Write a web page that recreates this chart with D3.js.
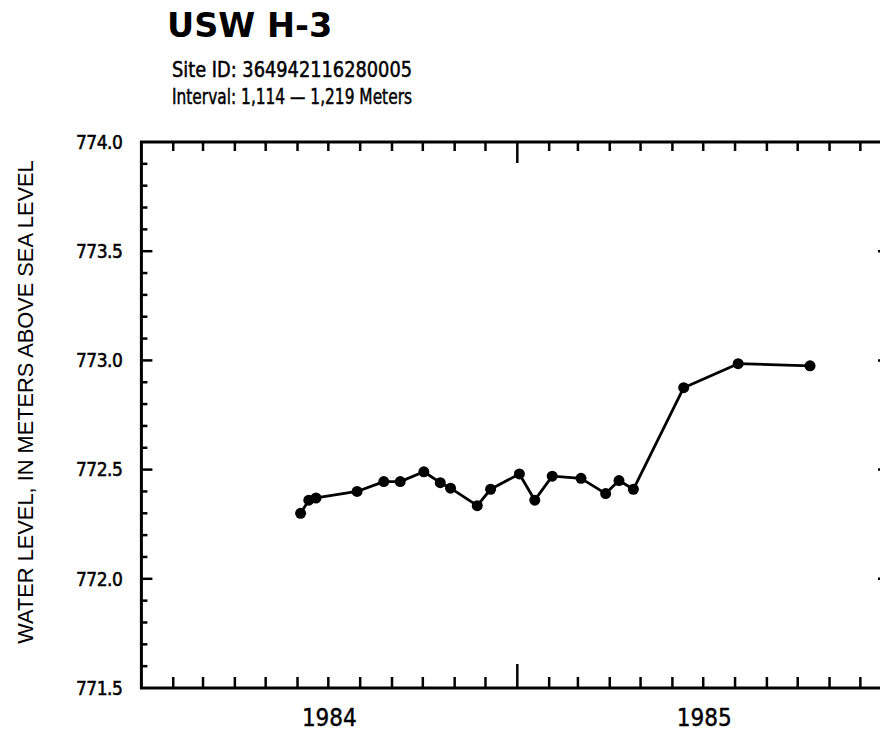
<!DOCTYPE html>
<html>
<head>
<meta charset="utf-8">
<script src="https://cdn.jsdelivr.net/npm/d3@7"></script>
<style>
  html, body { margin: 0; padding: 0; background: #fff; }
  svg { display: block; }
</style>
</head>
<body>
<svg id="chart" width="880" height="733"></svg>
<script>
// ---- data ----
const dates = ["1984-06-04","1984-06-12","1984-06-19","1984-07-29","1984-08-24","1984-09-09",
  "1984-10-02","1984-10-18","1984-10-28","1984-11-23","1984-12-06","1985-01-03","1985-01-18",
  "1985-02-04","1985-03-04","1985-03-28","1985-04-10","1985-04-24","1985-06-12","1985-08-04","1985-10-13"];
const levels = [772.30,772.36,772.37,772.40,772.445,772.445,772.49,772.44,772.415,772.335,772.41,
  772.48,772.36,772.47,772.46,772.39,772.45,772.41,772.875,772.985,772.975];
const yTickLabels = [771.5, 772.0, 772.5, 773.0, 773.5, 774.0];
const yMinorStep = 0.1;
const yearLabels = ["1984", "1985"];
const titleText = "USW H-3";
const subtitle1 = "Site ID: 364942116280005";
const subtitle2 = "Interval: 1,114 \u2014 1,219 Meters";
const yTitle = "WATER LEVEL, IN METERS ABOVE SEA LEVEL";

(function () {
// ---- layout ----
const svg = d3.select("#chart");
const pL = 141.4, pR = 889, pT = 142, pB = 688;
const x = d3.scaleUtc()
  .domain([new Date(Date.UTC(1984,0,1)), new Date(Date.UTC(1986,0,1))])
  .range([pL, 892.2]);
const y = d3.scaleLinear().domain([771.5, 774.0]).range([pB, pT]);
const ink = "#000";
const font = "'DejaVu Sans Condensed', 'DejaVu Sans', sans-serif";

// frame
svg.append("rect").attr("x", pL).attr("y", pT)
  .attr("width", pR - pL).attr("height", pB - pT)
  .attr("fill", "none").attr("stroke", ink).attr("stroke-width", 3);

// month ticks
const months = d3.utcMonth.range(new Date(Date.UTC(1984,1,1)), new Date(Date.UTC(1986,0,1)));
const isYear = d => d.getUTCMonth() === 0;
const tg = svg.append("g").attr("stroke", ink).attr("stroke-width", 2.5);
tg.selectAll("line.b").data(months).join("line").attr("class","b")
  .attr("x1", d => x(d)).attr("x2", d => x(d))
  .attr("y1", pB).attr("y2", d => pB - (isYear(d) ? 24 : 11));
tg.selectAll("line.t").data(months).join("line").attr("class","t")
  .attr("x1", d => x(d)).attr("x2", d => x(d))
  .attr("y1", pT).attr("y2", d => pT + (isYear(d) ? 21 : 9));

// y ticks
const yTicks = d3.range(0, Math.round((774.0 - 771.5) / yMinorStep) + 1).map(i => 771.5 + i * yMinorStep);
const isMajor = v => yTickLabels.some(t => Math.abs(t - v) < 1e-6);
tg.selectAll("line.l").data(yTicks.slice(1, -1)).join("line").attr("class","l")
  .attr("x1", pL).attr("x2", d => pL + (isMajor(d) ? 11 : 6))
  .attr("y1", d => y(d)).attr("y2", d => y(d));
tg.selectAll("line.r").data(yTicks.slice(1, -1)).join("line").attr("class","r")
  .attr("x1", pR).attr("x2", d => pR - (isMajor(d) ? 11 : 6))
  .attr("y1", d => y(d)).attr("y2", d => y(d));

// y tick labels
svg.append("g").selectAll("text").data(yTickLabels).join("text")
  .attr("x", pL - 19).attr("y", d => y(d)).attr("dy", "0.36em")
  .attr("text-anchor", "end").attr("font-family", font).attr("font-size", 19)
  .attr("fill", ink).attr("stroke", ink).attr("stroke-width", 0.5)
  .attr("letter-spacing", -0.5)
  .text(d => d3.format(".1f")(d));

// year labels
svg.append("g").selectAll("text").data(yearLabels).join("text")
  .attr("x", d => x(new Date(Date.UTC(+d, 6, 2))))
  .attr("y", 726).attr("text-anchor", "middle")
  .attr("font-family", font).attr("font-size", 24).attr("fill", ink)
  .attr("stroke", ink).attr("stroke-width", 0.4)
  .text(d => d);

// y axis title
svg.append("text")
  .attr("transform", `translate(33,${(pT + pB) / 2 - 13}) rotate(-90)`)
  .attr("text-anchor", "middle").attr("font-family", "'Liberation Sans', Arial, sans-serif")
  .attr("font-size", 21.8).attr("fill", ink).text(yTitle);

// titles
svg.append("text").attr("x", 167).attr("y", 37)
  .attr("font-family", "'DejaVu Sans', sans-serif").attr("font-weight", "bold").attr("font-size", 33.5)
  .attr("fill", ink).text(titleText);
svg.append("text").attr("x", 172).attr("y", 77)
  .attr("font-family", font).attr("font-size", 22).attr("fill", ink)
  .attr("stroke", ink).attr("stroke-width", 0.5)
  .attr("textLength", 240).attr("lengthAdjust", "spacingAndGlyphs").text(subtitle1);
svg.append("text").attr("x", 172).attr("y", 104)
  .attr("font-family", font).attr("font-size", 22).attr("fill", ink)
  .attr("stroke", ink).attr("stroke-width", 0.5)
  .attr("textLength", 240).attr("lengthAdjust", "spacingAndGlyphs").text(subtitle2);

// data
const pts = dates.map((d, i) => ({ t: new Date(d + "T00:00:00Z"), v: levels[i] }));
svg.append("path").datum(pts)
  .attr("d", d3.line().x(d => x(d.t)).y(d => y(d.v)))
  .attr("fill", "none").attr("stroke", ink).attr("stroke-width", 2.8)
  .attr("stroke-linejoin", "round");
svg.append("g").selectAll("circle").data(pts).join("circle")
  .attr("cx", d => x(d.t)).attr("cy", d => y(d.v)).attr("r", 5.5)
  .attr("fill", ink);
})();
</script>
</body>
</html>
